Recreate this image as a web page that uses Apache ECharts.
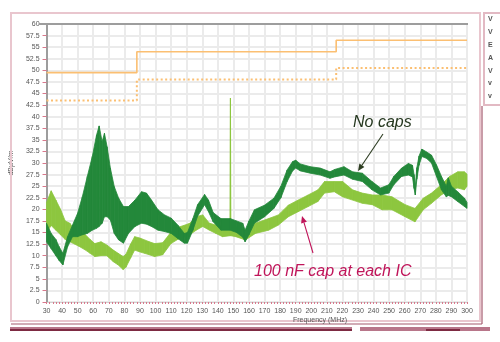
<!DOCTYPE html>
<html>
<head>
<meta charset="utf-8">
<title>Radiated emissions</title>
<script src="https://cdn.jsdelivr.net/npm/echarts@6/dist/echarts.min.js"></script>
<style>
  html, body { margin: 0; padding: 0; background: #ffffff; }
  #chart { width: 500px; height: 342px; }
</style>
</head>
<body>
<div id="chart"></div>
<script>
// Frequency range of the scan (MHz) and emission axis (dBµV/m)
const freqMin = 30;
const freqMax = 300;
const levelMin = 0;
const levelMax = 60;

// Limit lines: break frequencies and the levels held from each break
const limitFreqs = [30, 88, 216, 300];
const limitQuasiPeak = [49.5, 54, 56.5, 56.5];
const limitAverage = [43.5, 48, 50.5, 50.5];

// "No caps" trace: lower and upper edge of the noisy spectrum band
const freqNoCaps = [30, 33, 36, 38, 40.5, 43.5, 46.7, 49.9, 53, 56.2,
  59.4, 62.1, 63.8, 65.7, 67.2, 68.9, 71, 73.5, 76.3, 79.4,
  82.6, 86.8, 91, 94.2, 97.4, 101.6, 105.8, 110.1, 114.3, 118.5,
  120.5, 124, 127, 131.5, 134, 137, 142, 148, 152, 156,
  157.5, 160, 163.5, 170, 176, 180.5, 184.5, 188, 190, 193,
  199.4, 205.8, 212, 215, 221, 226.5, 232.8, 239, 244.5, 249.8,
  253, 258, 262.4, 265, 266, 266.8, 267.8, 269.2, 271, 274,
  277.2, 280.4, 283.6, 286.7, 288, 290, 294, 298.4, 300];
const noCapsLow = [13, 11.5, 10, 9, 8, 11.9, 14.1, 14.1, 14.5, 14.8,
  15.5, 15.9, 16.3, 17, 18.4, 18.4, 17.7, 14.8, 13.4, 12.7,
  14.8, 16.3, 17, 16.8, 16.3, 15.5, 15.2, 14.8, 13.7, 12.7,
  12.7, 15.5, 18.5, 21, 19.5, 17.3, 15.5, 15.5, 15, 14,
  13, 14.5, 17, 18.4, 20.2, 22.5, 26, 28.3, 28.9, 28.3,
  27.8, 27.4, 26.7, 27, 27.4, 26.5, 26, 24.2, 23.1, 23.5,
  25.3, 27.1, 27.4, 27, 24.5, 23.1, 26.5, 29.5, 31.4, 31,
  30, 27.1, 24.2, 22.7, 23, 22.7, 21.7, 20.6, 20.2];
const noCapsHigh = [17, 14.8, 13.5, 12, 10.5, 14.1, 16.6, 19.1, 22.7, 27.1,
  31.4, 36, 38, 34.6, 36.4, 33.5, 28.9, 24.9, 22.4, 20.6,
  20.6, 22, 23.8, 23.5, 22, 19.9, 18.8, 18.1, 16.6, 14.8,
  15, 18, 21, 23.2, 22, 19.3, 18, 18, 17.5, 17,
  15.5, 17.5, 19.9, 20.9, 22.4, 25, 28.5, 30.3, 30.6, 29.8,
  29.2, 28.9, 28.1, 28.6, 29.2, 28.1, 27.8, 26, 24.6, 25.3,
  27.1, 28.9, 29.9, 29.5, 27.5, 25, 29, 31.5, 33, 32.4,
  31.7, 29.6, 27.1, 25, 26.8, 25, 23.8, 22.4, 21.5];

// "100 nF cap at each IC" trace: lower and upper edge of the band
const freqWithCaps = [30, 33, 36, 39, 42, 45, 48, 51, 55, 58,
  61, 65, 68.7, 72.9, 76, 79.2, 81, 84, 86.6, 90,
  93, 96, 99.4, 104.6, 107, 109.9, 114.2, 118, 122, 126.1,
  130.3, 134.6, 138.8, 143, 147.8, 148.1, 148.4, 151.5, 157.8, 164.1,
  172.6, 178.9, 185.3, 191.6, 198, 204.3, 208.5, 214.8, 220.1, 226.5,
  232.8, 239.2, 245.5, 251.8, 260.3, 266.6, 271.9, 277.2, 283.5, 288.8,
  294.1, 298.3, 300];
const withCapsLow = [15, 16.5, 15.5, 14.5, 13.5, 13, 12.5, 12, 11.2, 10.5,
  9.8, 10, 10, 8.7, 8, 7, 7.5, 9.5, 11.2, 10.8,
  10.5, 10.2, 9.8, 10.2, 11.3, 12.6, 13.5, 14, 14.5, 15.5,
  16.3, 15.5, 14.8, 14.1, 14.3, 14.3, 14.3, 14.1, 13.4, 14.8,
  15.5, 16.6, 18.4, 19.5, 20.6, 21.7, 23.5, 23.8, 22.7, 22,
  21.3, 21, 19.9, 19.9, 18.4, 17.3, 19.9, 21.3, 23.1, 24.2,
  24.6, 24.2, 25];
const withCapsHigh = [21.5, 24, 22, 20, 17.5, 17, 15.5, 15, 14.5, 13.5,
  12.6, 13, 12.3, 11.2, 10.5, 9.8, 10.3, 12.5, 14.1, 13.8,
  13.4, 13, 12.6, 12.8, 13.8, 15.1, 16.1, 16.5, 17, 18.4,
  18.8, 17, 16.6, 16.3, 16.3, 44, 16.3, 16.3, 15.5, 17,
  18, 18.8, 20.9, 22, 23.1, 24.2, 26, 26, 26, 24.2,
  23.5, 23.1, 23.1, 22.7, 21, 20.2, 22.4, 23.5, 25.3, 27.1,
  28.1, 28.1, 27.6];

// Side panel letters
const panelLetters = ['V', 'V', 'E', 'A', 'V', 'v', 'v'];

const DARK_GREEN = '#23883a';
const LIGHT_GREEN = '#8dc63f';
const LIMIT_ORANGE = '#fbbf72';
const TICK_PINK = '#d9788c';
const GRID_GREY = '#ebebeb';
const LABEL_FONT = '"Liberation Sans", Arial, sans-serif';

function pairs(xs, ys) {
  return xs.map((x, i) => [x, ys[i]]);
}

// A spectrum band drawn as a chain of quads between the lower and
// upper envelope, each quad spanning one sample to the next
function bandSeries(name, xs, lo, hi, color, z) {
  return {
    name: name,
    type: 'custom',
    coordinateSystem: 'cartesian2d',
    data: xs.map((x, i) => [x, lo[i], hi[i]]),
    encode: { x: 0, y: [1, 2] },
    silent: true,
    z: z,
    renderItem: function (params, api) {
      const i = params.dataIndex;
      if (i >= xs.length - 1) return null;
      const pts = [
        api.coord([xs[i], hi[i]]),
        api.coord([xs[i + 1], hi[i + 1]]),
        api.coord([xs[i + 1], lo[i + 1]]),
        api.coord([xs[i], lo[i]])
      ];
      return {
        type: 'polygon',
        shape: { points: pts },
        style: { fill: color, stroke: color, lineWidth: 0.8 }
      };
    }
  };
}

function arrow(x1, y1, x2, y2, color) {
  const ang = Math.atan2(y2 - y1, x2 - x1);
  const len = 7, half = 3;
  const bx = x2 - len * Math.cos(ang), by = y2 - len * Math.sin(ang);
  const px = -Math.sin(ang) * half, py = Math.cos(ang) * half;
  return [
    { type: 'line', shape: { x1: x1, y1: y1, x2: bx, y2: by },
      style: { stroke: color, lineWidth: 1.1 }, z: 20 },
    { type: 'polygon', shape: { points: [[x2, y2], [bx + px, by + py], [bx - px, by - py]] },
      style: { fill: color }, z: 20 }
  ];
}

const chart = echarts.init(document.getElementById('chart'), null, { renderer: 'canvas' });

const graphics = [
  // outer frame
  { type: 'rect', shape: { x: 11, y: 13, width: 469, height: 308 },
    style: { fill: 'none', stroke: '#e9c6ce', lineWidth: 2 }, z: 1 },
  { type: 'line', shape: { x1: 11, y1: 324, x2: 482, y2: 324 },
    style: { stroke: '#a45a6e', lineWidth: 1.2 }, z: 1 },
  { type: 'line', shape: { x1: 482, y1: 106, x2: 482, y2: 324 },
    style: { stroke: '#a45a6e', lineWidth: 1.2 }, z: 1 },
  { type: 'rect', shape: { x: 10, y: 327, width: 342, height: 4 },
    style: { fill: '#b8768a' }, z: 1 },
  { type: 'rect', shape: { x: 10, y: 329, width: 342, height: 2 },
    style: { fill: '#7d2a42' }, z: 1 },
  { type: 'rect', shape: { x: 360, y: 327, width: 130, height: 4 },
    style: { fill: '#b8768a' }, z: 1 },
  { type: 'rect', shape: { x: 426, y: 329, width: 34, height: 2 },
    style: { fill: '#7d2a42' }, z: 1 },
  // side panel
  { type: 'rect', shape: { x: 484, y: 13, width: 20, height: 92 },
    style: { fill: '#ffffff', stroke: '#e2b9c3', lineWidth: 2 }, z: 1 },
  // plot top border
  { type: 'line', shape: { x1: 39, y1: 24, x2: 468, y2: 24 },
    style: { stroke: '#9d9d9d', lineWidth: 2 }, z: 5 },
  // x-axis title
  { type: 'text', x: 320, y: 320,
    style: { text: 'Frequency (MHz)', font: '7px ' + LABEL_FONT, fill: '#555',
      textAlign: 'center', textVerticalAlign: 'middle' }, z: 10 },
  // annotations
  { type: 'text', x: 353, y: 123,
    style: { text: 'No caps', font: 'italic 16px ' + LABEL_FONT, fill: '#263820',
      textAlign: 'left', textVerticalAlign: 'middle' }, z: 20 },
  { type: 'text', x: 254, y: 272,
    style: { text: '100 nF cap at each IC', font: 'italic 16px ' + LABEL_FONT, fill: '#c0155a',
      textAlign: 'left', textVerticalAlign: 'middle' }, z: 20 }
].concat(arrow(383, 134, 358, 171, '#2d3d22'))
 .concat(arrow(313, 253, 302, 216, '#c0155a'))
 .concat(panelLetters.map((t, i) => ({
    type: 'text', x: 488, y: 19 + i * 12.9,
    style: { text: t, font: 'bold 7px ' + LABEL_FONT, fill: '#555',
      textAlign: 'left', textVerticalAlign: 'middle' }, z: 2
  })));

const option = {
  animation: false,
  backgroundColor: '#ffffff',
  grid: { left: 40, top: 24, right: 33, bottom: 40, containLabel: false },
  xAxis: {
    type: 'value',
    min: freqMin,
    max: freqMax,
    interval: 10,
    axisLine: { show: true, lineStyle: { color: '#d0d0d0', width: 1 } },
    axisTick: { show: true, length: 2, lineStyle: { color: TICK_PINK } },
    minorTick: { show: true, splitNumber: 5, length: 2, lineStyle: { color: TICK_PINK } },
    axisLabel: { fontSize: 7, color: '#555', margin: 6, fontFamily: LABEL_FONT },
    splitLine: { show: true, lineStyle: { color: GRID_GREY, width: 2 } }
  },
  yAxis: {
    type: 'value',
    min: levelMin,
    max: levelMax,
    interval: 2.5,
    name: 'dBµV/m',
    nameLocation: 'middle',
    nameGap: 24,
    nameRotate: 90,
    nameTextStyle: { fontSize: 7, color: '#555', fontFamily: LABEL_FONT },
    axisLine: { show: true, lineStyle: { color: '#9d9d9d', width: 2 } },
    axisTick: { show: true, length: 4, lineStyle: { color: TICK_PINK } },
    axisLabel: { fontSize: 7, color: '#555', margin: 7, fontFamily: LABEL_FONT },
    splitLine: { show: true, lineStyle: { color: GRID_GREY, width: 2 } }
  },
  series: [
    {
      name: 'Quasi-peak limit',
      type: 'line',
      step: 'end',
      data: pairs(limitFreqs, limitQuasiPeak),
      showSymbol: false,
      symbol: 'none',
      lineStyle: { color: LIMIT_ORANGE, width: 1.6 },
      z: 3
    },
    {
      name: 'Average limit',
      type: 'line',
      step: 'end',
      data: pairs(limitFreqs, limitAverage),
      showSymbol: false,
      symbol: 'none',
      lineStyle: { color: LIMIT_ORANGE, width: 2, type: [2, 2.5] },
      z: 3
    },
    bandSeries('100 nF cap at each IC', freqWithCaps, withCapsLow, withCapsHigh, LIGHT_GREEN, 4),
    bandSeries('No caps', freqNoCaps, noCapsLow, noCapsHigh, DARK_GREEN, 6)
  ],
  graphic: graphics
};

chart.setOption(option);
</script>
</body>
</html>
